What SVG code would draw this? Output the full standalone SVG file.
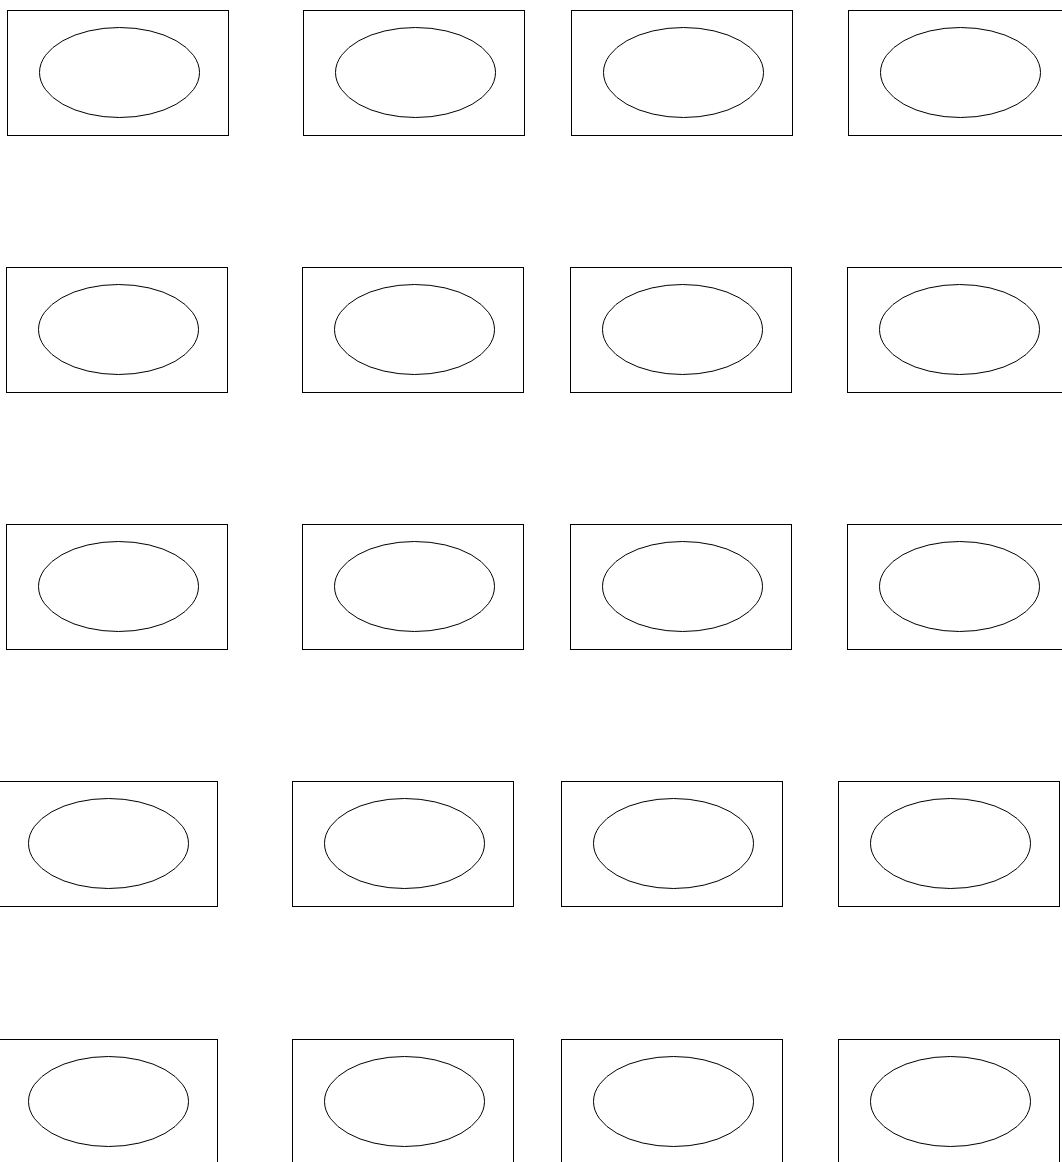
<svg xmlns="http://www.w3.org/2000/svg" width="1062" height="1162" viewBox="0 0 1062 1162">
<style>
rect{fill:#fff;stroke:#000;stroke-width:1}
ellipse{fill:none;stroke:#000;stroke-width:1}
</style>
<defs>
<g id="cell"><rect x="0" y="0" width="221" height="125"/><ellipse cx="112" cy="62" rx="80" ry="45"/></g>
</defs>
<rect x="0" y="0" width="1062" height="1162" style="stroke:none"/>
<g id="r1c1" transform="translate(7.5,10.5)"><use href="#cell"/></g>
<g id="r1c2" transform="translate(303.5,10.5)"><use href="#cell"/></g>
<g id="r1c3" transform="translate(571.5,10.5)"><use href="#cell"/></g>
<g id="r1c4" transform="translate(848.5,10.5)"><use href="#cell"/></g>
<g id="r2c1" transform="translate(6.5,267.5)"><use href="#cell"/></g>
<g id="r2c2" transform="translate(302.5,267.5)"><use href="#cell"/></g>
<g id="r2c3" transform="translate(570.5,267.5)"><use href="#cell"/></g>
<g id="r2c4" transform="translate(847.5,267.5)"><use href="#cell"/></g>
<g id="r3c1" transform="translate(6.5,524.5)"><use href="#cell"/></g>
<g id="r3c2" transform="translate(302.5,524.5)"><use href="#cell"/></g>
<g id="r3c3" transform="translate(570.5,524.5)"><use href="#cell"/></g>
<g id="r3c4" transform="translate(847.5,524.5)"><use href="#cell"/></g>
<g id="r4c1" transform="translate(-3.5,781.5)"><use href="#cell"/></g>
<g id="r4c2" transform="translate(292.5,781.5)"><use href="#cell"/></g>
<g id="r4c3" transform="translate(561.5,781.5)"><use href="#cell"/></g>
<g id="r4c4" transform="translate(838.5,781.5)"><use href="#cell"/></g>
<g id="r5c1" transform="translate(-3.5,1039.5)"><use href="#cell"/></g>
<g id="r5c2" transform="translate(292.5,1039.5)"><use href="#cell"/></g>
<g id="r5c3" transform="translate(561.5,1039.5)"><use href="#cell"/></g>
<g id="r5c4" transform="translate(838.5,1039.5)"><use href="#cell"/></g>
<g id="connectors"/>
</svg>
